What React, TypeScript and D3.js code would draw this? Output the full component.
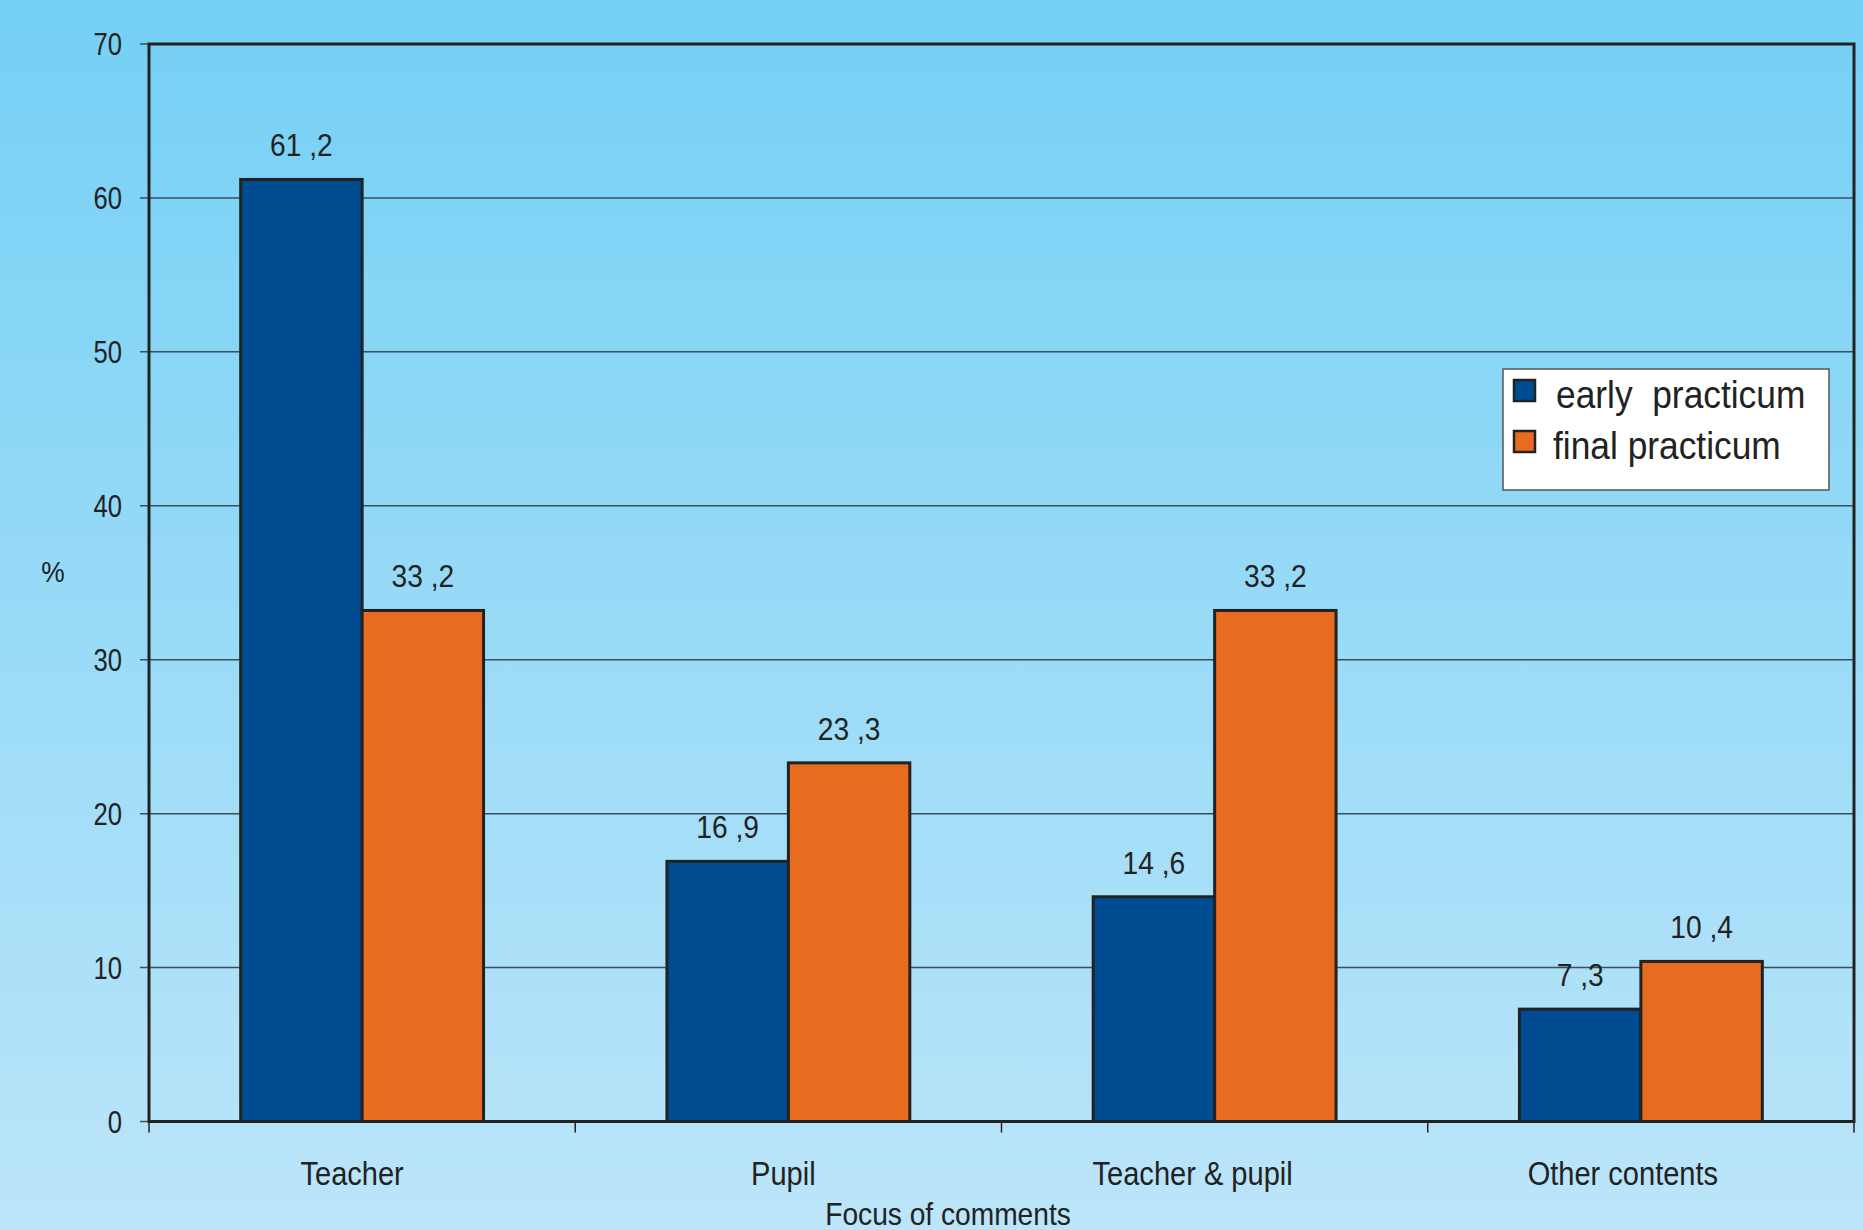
import * as d3 from 'd3';
import React from 'react';

// chart values
const categories = ['Teacher', 'Pupil', 'Teacher & pupil', 'Other contents'];
const earlyValues = [61.2, 16.9, 14.6, 7.3];
const finalValues = [33.2, 23.3, 33.2, 10.4];
const seriesNames = ['early  practicum', 'final practicum'];
const yTicks = [0, 10, 20, 30, 40, 50, 60, 70];

const W = 1863;
const H = 1230;
const FONT = '"Liberation Sans", Arial, sans-serif';
const SQUEEZE = 0.88;

const marginLeft = 149;
const marginRight = 9;
const marginTop = 44;
const plotBottom = 1121.5;

const colors = ['#004c93', '#e86c1f'];
const ink = '#222';
// the category labels sit a bit left of the band centres in the original
const labelNudge = [-10, -5, -22, -18];

const fmt = (v: number) => v.toFixed(1).replace('.', ' ,');

const App = () => {
  const x = d3
    .scaleBand<string>()
    .domain(categories)
    .range([marginLeft, W - marginRight])
    .padding(0);
  // two bars side by side in the middle of each category
  const inner = d3
    .scaleBand<number>()
    .domain([0, 1])
    .range([0, x.bandwidth()])
    .paddingOuter(0.755)
    .paddingInner(0);
  const y = d3.scaleLinear().domain([0, 70]).range([plotBottom, marginTop]);

  const series = [earlyValues, finalValues];

  return (
    <svg
      width={W}
      height={H}
      style={{ position: 'absolute', left: 0, top: 0, display: 'block' }}
      fontFamily={FONT}
    >
      <defs>
        <linearGradient id="bg" x1="0" y1="0" x2="0" y2="1">
          <stop offset="0" stopColor="#74d0f5" />
          <stop offset="1" stopColor="#bce5f9" />
        </linearGradient>
      </defs>
      <rect x={0} y={0} width={W} height={H} fill="url(#bg)" />

      {/* grid lines + y ticks */}
      {yTicks.map((t) => (
        <g key={t}>
          <line
            x1={marginLeft - 9}
            x2={W - marginRight}
            y1={y(t)}
            y2={y(t)}
            stroke="#3d4f5c"
            strokeWidth={1.5}
          />
          <text
            transform={`translate(${marginLeft - 27},${y(t) + 11}) scale(0.8,1)`}
            textAnchor="end"
            fontSize={32}
            fill={ink}
          >
            {t}
          </text>
        </g>
      ))}

      {/* bars */}
      {categories.map((c, i) => (
        <g key={c} transform={`translate(${x(c)},0)`}>
          {series.map((vals, s) => (
            <rect
              key={s}
              x={inner(s)}
              y={y(vals[i])}
              width={inner.bandwidth()}
              height={y(0) - y(vals[i])}
              fill={colors[s]}
              stroke={ink}
              strokeWidth={3}
            />
          ))}
          {series.map((vals, s) => (
            <text
              key={'l' + s}
              transform={`translate(${(inner(s) as number) + inner.bandwidth() / 2},${y(vals[i]) - 23}) scale(${SQUEEZE},1)`}
              textAnchor="middle"
              fontSize={32}
              fill={ink}
            >
              {fmt(vals[i])}
            </text>
          ))}
        </g>
      ))}

      {/* frame */}
      <path
        d={`M${marginLeft},${plotBottom}V${marginTop}H${W - marginRight}V${plotBottom}Z`}
        fill="none"
        stroke={ink}
        strokeWidth={3}
      />

      {/* x ticks at category boundaries */}
      {[...categories.map((c) => x(c) as number), W - marginRight].map((p, i) => (
        <line key={i} x1={p} x2={p} y1={plotBottom} y2={plotBottom + 11} stroke={ink} strokeWidth={1.5} />
      ))}

      {/* category labels */}
      {categories.map((c, i) => (
        <text
          key={c}
          transform={`translate(${(x(c) as number) + x.bandwidth() / 2 + labelNudge[i]},1185) scale(${SQUEEZE},1)`}
          textAnchor="middle"
          fontSize={33}
          fill={ink}
        >
          {c}
        </text>
      ))}

      <text
        transform={`translate(948,1225) scale(${SQUEEZE},1)`}
        textAnchor="middle"
        fontSize={32}
        fill={ink}
      >
        Focus of comments
      </text>

      <text transform="translate(53,582) scale(0.88,1)" textAnchor="middle" fontSize={30} fill={ink}>
        %
      </text>

      {/* legend */}
      <g transform="translate(1503,369)">
        <rect x={0} y={0} width={326} height={121} fill="#fff" stroke="#555" strokeWidth={1.5} />
        {seriesNames.map((n, i) => (
          <g key={n} transform={`translate(0,${i * 51})`}>
            <rect x={11} y={11} width={21} height={21} fill={colors[i]} stroke={ink} strokeWidth={2.5} />
            <text
              transform={`translate(${i === 0 ? 53 : 50},39) scale(0.93,1)`}
              fontSize={38}
              fill={ink}
              style={{ whiteSpace: 'pre' }}
            >
              {n}
            </text>
          </g>
        ))}
      </g>
    </svg>
  );
};

export default App;
